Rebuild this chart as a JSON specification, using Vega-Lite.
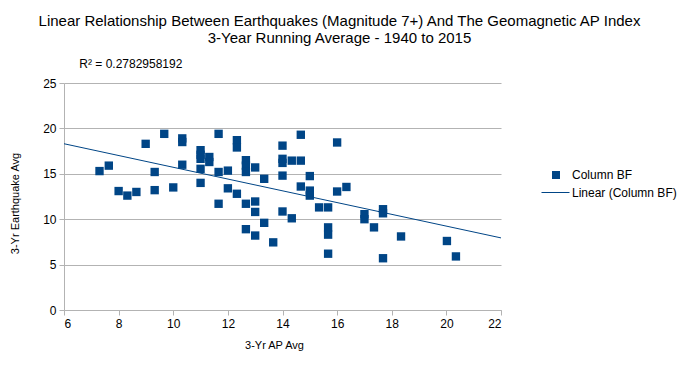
{
  "$schema": "https://vega.github.io/schema/vega-lite/v6.json",
  "autosize": {"type": "none"},
  "width": 437,
  "height": 227,
  "padding": {"left": 64, "top": 83, "right": 182, "bottom": 55},
  "background": "white",
  "title": {
    "text": ["Linear Relationship Between Earthquakes (Magnitude 7+) And The Geomagnetic AP Index", "3-Year Running Average - 1940 to 2015"],
    "anchor": "middle",
    "frame": "group",
    "dx": 57,
    "font": "Liberation Sans",
    "fontSize": 15,
    "fontWeight": "normal",
    "color": "#000000",
    "lineHeight": 17.5,
    "offset": 12
  },
  "datasets": {
    "points": [
      {"ap": 7.30, "eq": 15.3, "series": "Column BF"},
      {"ap": 7.64, "eq": 15.9, "series": "Column BF"},
      {"ap": 8.00, "eq": 13.1, "series": "Column BF"},
      {"ap": 8.32, "eq": 12.6, "series": "Column BF"},
      {"ap": 8.65, "eq": 13.0, "series": "Column BF"},
      {"ap": 8.99, "eq": 18.3, "series": "Column BF"},
      {"ap": 9.32, "eq": 15.2, "series": "Column BF"},
      {"ap": 9.32, "eq": 13.2, "series": "Column BF"},
      {"ap": 9.67, "eq": 19.4, "series": "Column BF"},
      {"ap": 10.00, "eq": 13.5, "series": "Column BF"},
      {"ap": 10.33, "eq": 18.9, "series": "Column BF"},
      {"ap": 10.33, "eq": 18.5, "series": "Column BF"},
      {"ap": 10.33, "eq": 16.0, "series": "Column BF"},
      {"ap": 11.00, "eq": 17.6, "series": "Column BF"},
      {"ap": 11.00, "eq": 17.1, "series": "Column BF"},
      {"ap": 11.00, "eq": 16.65, "series": "Column BF"},
      {"ap": 11.00, "eq": 15.55, "series": "Column BF"},
      {"ap": 11.00, "eq": 14.0, "series": "Column BF"},
      {"ap": 11.32, "eq": 16.85, "series": "Column BF"},
      {"ap": 11.32, "eq": 16.3, "series": "Column BF"},
      {"ap": 11.66, "eq": 19.4, "series": "Column BF"},
      {"ap": 11.66, "eq": 15.2, "series": "Column BF"},
      {"ap": 11.66, "eq": 11.7, "series": "Column BF"},
      {"ap": 12.00, "eq": 15.35, "series": "Column BF"},
      {"ap": 12.00, "eq": 13.4, "series": "Column BF"},
      {"ap": 12.33, "eq": 18.7, "series": "Column BF"},
      {"ap": 12.33, "eq": 17.9, "series": "Column BF"},
      {"ap": 12.33, "eq": 12.8, "series": "Column BF"},
      {"ap": 12.66, "eq": 16.5, "series": "Column BF"},
      {"ap": 12.66, "eq": 15.9, "series": "Column BF"},
      {"ap": 12.66, "eq": 15.2, "series": "Column BF"},
      {"ap": 12.66, "eq": 11.7, "series": "Column BF"},
      {"ap": 12.66, "eq": 8.9, "series": "Column BF"},
      {"ap": 13.00, "eq": 15.7, "series": "Column BF"},
      {"ap": 13.00, "eq": 11.95, "series": "Column BF"},
      {"ap": 13.00, "eq": 10.8, "series": "Column BF"},
      {"ap": 13.00, "eq": 8.2, "series": "Column BF"},
      {"ap": 13.33, "eq": 14.45, "series": "Column BF"},
      {"ap": 13.33, "eq": 9.6, "series": "Column BF"},
      {"ap": 13.66, "eq": 7.45, "series": "Column BF"},
      {"ap": 14.00, "eq": 18.1, "series": "Column BF"},
      {"ap": 14.00, "eq": 16.65, "series": "Column BF"},
      {"ap": 14.00, "eq": 16.2, "series": "Column BF"},
      {"ap": 14.00, "eq": 14.8, "series": "Column BF"},
      {"ap": 14.00, "eq": 10.85, "series": "Column BF"},
      {"ap": 14.34, "eq": 16.45, "series": "Column BF"},
      {"ap": 14.34, "eq": 10.1, "series": "Column BF"},
      {"ap": 14.67, "eq": 19.3, "series": "Column BF"},
      {"ap": 14.67, "eq": 16.45, "series": "Column BF"},
      {"ap": 14.67, "eq": 13.6, "series": "Column BF"},
      {"ap": 15.00, "eq": 14.75, "series": "Column BF"},
      {"ap": 15.00, "eq": 13.15, "series": "Column BF"},
      {"ap": 15.00, "eq": 12.6, "series": "Column BF"},
      {"ap": 15.34, "eq": 11.3, "series": "Column BF"},
      {"ap": 15.67, "eq": 11.3, "series": "Column BF"},
      {"ap": 15.67, "eq": 9.1, "series": "Column BF"},
      {"ap": 15.67, "eq": 8.3, "series": "Column BF"},
      {"ap": 15.67, "eq": 6.2, "series": "Column BF"},
      {"ap": 16.00, "eq": 18.45, "series": "Column BF"},
      {"ap": 16.00, "eq": 13.05, "series": "Column BF"},
      {"ap": 16.34, "eq": 13.55, "series": "Column BF"},
      {"ap": 17.00, "eq": 10.55, "series": "Column BF"},
      {"ap": 17.00, "eq": 10.0, "series": "Column BF"},
      {"ap": 17.35, "eq": 9.1, "series": "Column BF"},
      {"ap": 17.68, "eq": 11.1, "series": "Column BF"},
      {"ap": 17.68, "eq": 10.65, "series": "Column BF"},
      {"ap": 17.68, "eq": 5.7, "series": "Column BF"},
      {"ap": 18.34, "eq": 8.1, "series": "Column BF"},
      {"ap": 20.02, "eq": 7.6, "series": "Column BF"},
      {"ap": 20.35, "eq": 5.9, "series": "Column BF"}
    ],
    "trend": [
      {"ap": 6, "eq": 18.31, "trend": "Linear (Column BF)"},
      {"ap": 22, "eq": 7.94, "trend": "Linear (Column BF)"}
    ],
    "note": [
      {"label": "R² = 0.2782958192", "nx": 6.56, "ny": 26.65}
    ]
  },
  "layer": [
    {
      "data": {"name": "points"},
      "mark": {"type": "point", "shape": "square", "filled": true, "size": 70, "opacity": 1},
      "encoding": {
        "x": {
          "field": "ap", "type": "quantitative",
          "scale": {"domain": [6, 22], "nice": false, "zero": false},
          "axis": {
            "title": "3-Yr AP Avg",
            "values": [6, 8, 10, 12, 14, 16, 18, 20, 22],
            "grid": false,
            "domainColor": "#b3b3b3",
            "tickColor": "#b3b3b3",
            "tickSize": 5,
            "labelFont": "Liberation Sans",
            "labelFontSize": 12,
            "labelColor": "#000000",
            "labelPadding": 3,
            "titleFont": "Liberation Sans",
            "titleFontSize": 11,
            "titleFontWeight": "normal",
            "titleColor": "#000000",
            "titlePadding": 10,
            "titleX": 210
          }
        },
        "y": {
          "field": "eq", "type": "quantitative",
          "scale": {"domain": [0, 25], "nice": false},
          "axis": {
            "title": "3-Yr Earthquake Avg",
            "values": [0, 5, 10, 15, 20, 25],
            "grid": true,
            "gridColor": "#b3b3b3",
            "domainColor": "#b3b3b3",
            "tickColor": "#b3b3b3",
            "tickSize": 5,
            "labelFont": "Liberation Sans",
            "labelFontSize": 12,
            "labelColor": "#000000",
            "labelPadding": 3,
            "titleFont": "Liberation Sans",
            "titleFontSize": 11,
            "titleFontWeight": "normal",
            "titleColor": "#000000",
            "titlePadding": 22,
            "titleY": 120
          }
        },
        "color": {
          "field": "series", "type": "nominal",
          "scale": {"range": ["#004586"]},
          "legend": {
            "title": null,
            "orient": "none",
            "legendX": 486,
            "legendY": 86,
            "symbolType": "square",
            "symbolSize": 64,
            "symbolOpacity": 1,
            "labelOffset": 10,
            "labelFont": "Liberation Sans",
            "labelFontSize": 12,
            "labelColor": "#000000",
            "padding": 0
          }
        }
      }
    },
    {
      "data": {"name": "trend"},
      "mark": {"type": "line", "strokeWidth": 1},
      "encoding": {
        "x": {"field": "ap", "type": "quantitative"},
        "y": {"field": "eq", "type": "quantitative"},
        "stroke": {
          "field": "trend", "type": "nominal",
          "scale": {"range": ["#004586"]},
          "legend": {
            "title": null,
            "orient": "none",
            "legendX": 477,
            "legendY": 95,
            "symbolType": "stroke",
            "symbolSize": 784,
            "symbolStrokeWidth": 1,
            "symbolStrokeColor": "#004586",
            "labelOffset": 2,
            "labelFont": "Liberation Sans",
            "labelFontSize": 12,
            "labelColor": "#000000",
            "padding": 0
          }
        }
      }
    },
    {
      "data": {"name": "note"},
      "mark": {"type": "text", "align": "left", "baseline": "alphabetic", "font": "Liberation Sans", "fontSize": 12, "fill": "#000000", "clip": false},
      "encoding": {
        "x": {"field": "nx", "type": "quantitative"},
        "y": {"field": "ny", "type": "quantitative"},
        "text": {"field": "label", "type": "nominal"}
      }
    }
  ],
  "config": {
    "view": {"stroke": null},
    "axis": {"labelFont": "Liberation Sans"}
  }
}
